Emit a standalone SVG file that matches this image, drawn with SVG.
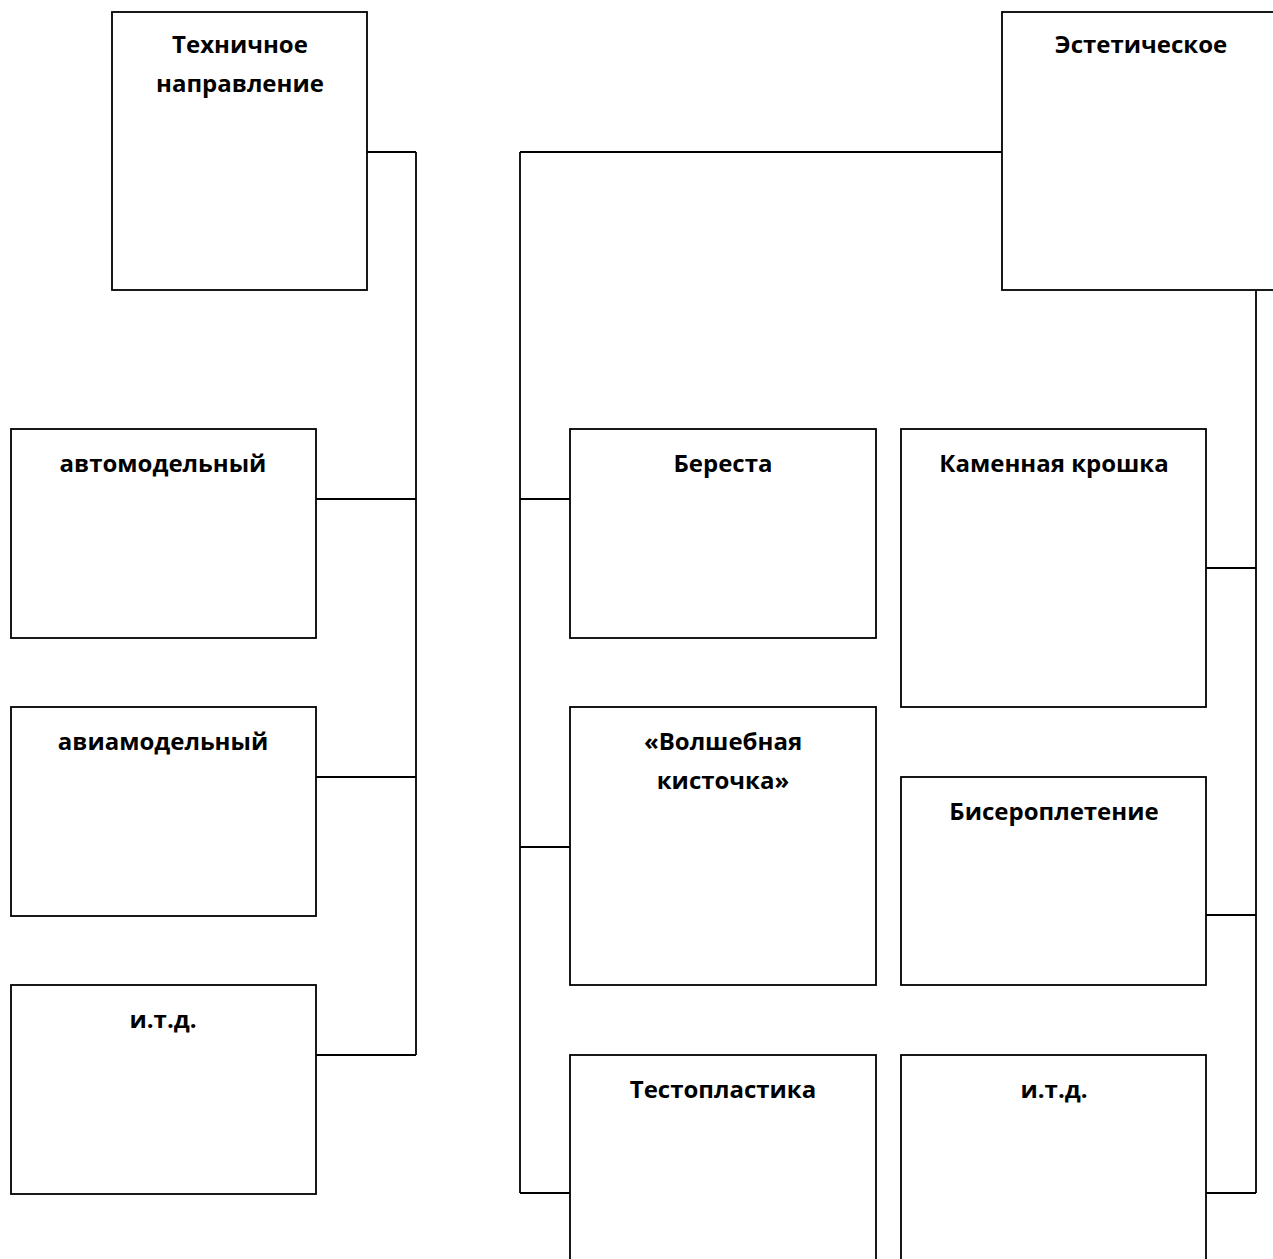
<svg xmlns="http://www.w3.org/2000/svg" width="1273" height="1259" viewBox="0 0 1273 1259">
<style>
rect{fill:#fff;stroke:#000;stroke-width:1.8}
.c line{stroke:#000;stroke-width:1.8}
text{font-family:"Open Sans","Liberation Sans",sans-serif;font-weight:bold;font-size:24px;text-anchor:middle;fill:#000}
</style>
<rect x="0" y="0" width="1273" height="1259" style="stroke:none"/>
<g class="c" id="connectors">
<line x1="367" y1="152" x2="416" y2="152"/>
<line x1="416" y1="152" x2="416" y2="1055"/>
<line x1="316" y1="499" x2="416" y2="499"/>
<line x1="316" y1="777" x2="416" y2="777"/>
<line x1="316" y1="1055" x2="416" y2="1055"/>
<line x1="520" y1="152" x2="1002" y2="152"/>
<line x1="520" y1="152" x2="520" y2="1193"/>
<line x1="520" y1="499" x2="570" y2="499"/>
<line x1="520" y1="847" x2="570" y2="847"/>
<line x1="520" y1="1193" x2="570" y2="1193"/>
<line x1="1256" y1="290" x2="1256" y2="1193"/>
<line x1="1206" y1="568" x2="1256" y2="568"/>
<line x1="1206" y1="915" x2="1256" y2="915"/>
<line x1="1206" y1="1193" x2="1256" y2="1193"/>
</g>
<g id="tech"><rect x="112" y="12" width="255" height="278"/><text x="240" y="53">Техничное</text><text x="240" y="92">направление</text></g>
<g id="est"><rect x="1002" y="12" width="290" height="278"/><text x="1141" y="53">Эстетическое</text></g>
<g id="avto"><rect x="11" y="429" width="305" height="209"/><text x="163" y="472">автомодельный</text></g>
<g id="avia"><rect x="11" y="707" width="305" height="209"/><text x="163" y="750">авиамодельный</text></g>
<g id="itd1"><rect x="11" y="985" width="305" height="209"/><text x="163" y="1028">и.т.д.</text></g>
<g id="beresta"><rect x="570" y="429" width="306" height="209"/><text x="723" y="472">Береста</text></g>
<g id="volsh"><rect x="570" y="707" width="306" height="278"/><text x="723" y="750">«Волшебная</text><text x="723" y="789">кисточка»</text></g>
<g id="testo"><rect x="570" y="1055" width="306" height="230"/><text x="723" y="1098">Тестопластика</text></g>
<g id="kamen"><rect x="901" y="429" width="305" height="278"/><text x="1054" y="472">Каменная крошка</text></g>
<g id="biser"><rect x="901" y="777" width="305" height="208"/><text x="1054" y="820">Бисероплетение</text></g>
<g id="itd2"><rect x="901" y="1055" width="305" height="230"/><text x="1054" y="1098">и.т.д.</text></g>
</svg>
